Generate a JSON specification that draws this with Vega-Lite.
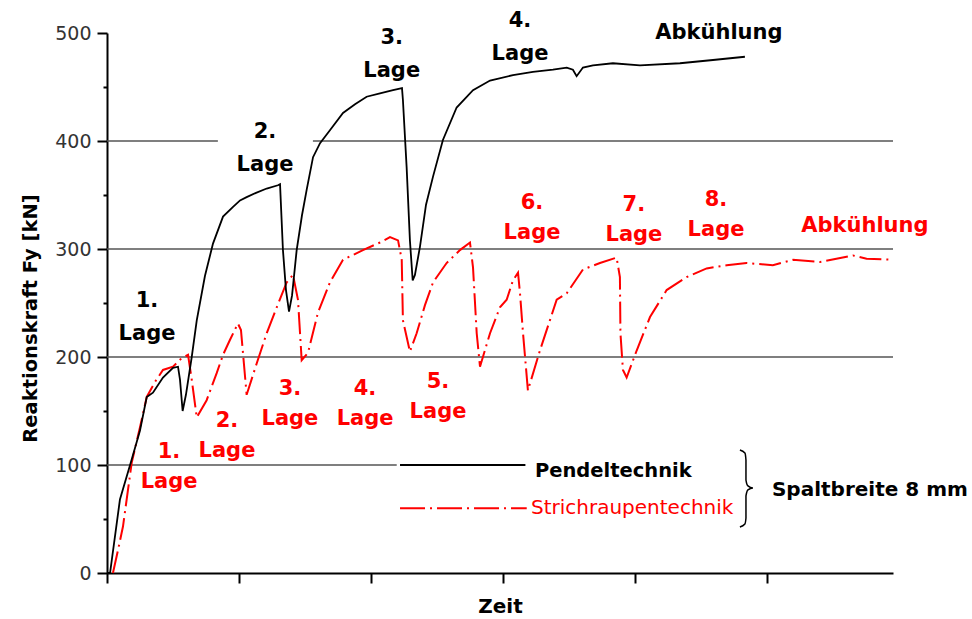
{
  "$schema": "https://vega.github.io/schema/vega-lite/v6.json",
  "width": 786,
  "height": 540,
  "autosize": {"type": "none"},
  "padding": {"left": 107, "top": 33, "right": 79, "bottom": 46},
  "background": "white",
  "config": {"view": {"stroke": null}, "font": "DejaVu Sans"},
  "datasets": {
    "grid": [
      {"t": 0, "t2": 0.84, "f": 400},
      {"t": 1.56, "t2": 5.955, "f": 400},
      {"t": 0, "t2": 5.955, "f": 300},
      {"t": 0, "t2": 5.955, "f": 200},
      {"t": 0, "t2": 2.195, "f": 100}
    ],
    "pendel": [
      {"t": 0, "f": 0}, {"t": 0.023, "f": 0}, {"t": 0.098, "f": 68}, {"t": 0.187, "f": 105},
      {"t": 0.25, "f": 132}, {"t": 0.301, "f": 163}, {"t": 0.348, "f": 167}, {"t": 0.424, "f": 181},
      {"t": 0.5, "f": 190}, {"t": 0.538, "f": 191}, {"t": 0.553, "f": 179}, {"t": 0.573, "f": 150},
      {"t": 0.598, "f": 165}, {"t": 0.642, "f": 200}, {"t": 0.68, "f": 234}, {"t": 0.742, "f": 275},
      {"t": 0.803, "f": 305}, {"t": 0.879, "f": 330}, {"t": 0.955, "f": 339}, {"t": 1.008, "f": 345},
      {"t": 1.058, "f": 348}, {"t": 1.129, "f": 352}, {"t": 1.21, "f": 356}, {"t": 1.295, "f": 359},
      {"t": 1.311, "f": 360}, {"t": 1.333, "f": 299}, {"t": 1.356, "f": 262}, {"t": 1.379, "f": 242},
      {"t": 1.402, "f": 257}, {"t": 1.437, "f": 299}, {"t": 1.477, "f": 331}, {"t": 1.513, "f": 355},
      {"t": 1.561, "f": 385}, {"t": 1.614, "f": 398}, {"t": 1.689, "f": 410}, {"t": 1.788, "f": 426},
      {"t": 1.879, "f": 434}, {"t": 1.967, "f": 441}, {"t": 2.068, "f": 444}, {"t": 2.167, "f": 447},
      {"t": 2.235, "f": 449}, {"t": 2.242, "f": 438}, {"t": 2.27, "f": 376}, {"t": 2.295, "f": 308},
      {"t": 2.316, "f": 271}, {"t": 2.333, "f": 276}, {"t": 2.371, "f": 302}, {"t": 2.417, "f": 341},
      {"t": 2.47, "f": 367}, {"t": 2.545, "f": 401}, {"t": 2.649, "f": 431}, {"t": 2.773, "f": 447},
      {"t": 2.902, "f": 456}, {"t": 3.076, "f": 461}, {"t": 3.227, "f": 464}, {"t": 3.379, "f": 466},
      {"t": 3.483, "f": 468}, {"t": 3.53, "f": 466}, {"t": 3.558, "f": 460}, {"t": 3.606, "f": 468},
      {"t": 3.682, "f": 470}, {"t": 3.833, "f": 472}, {"t": 4.038, "f": 470}, {"t": 4.341, "f": 472},
      {"t": 4.591, "f": 475}, {"t": 4.833, "f": 478}
    ],
    "strich": [
      {"t": 0.045, "f": 0}, {"t": 0.083, "f": 21}, {"t": 0.121, "f": 43}, {"t": 0.187, "f": 102},
      {"t": 0.25, "f": 135}, {"t": 0.301, "f": 163}, {"t": 0.364, "f": 177}, {"t": 0.424, "f": 188},
      {"t": 0.5, "f": 191}, {"t": 0.566, "f": 199}, {"t": 0.614, "f": 202}, {"t": 0.642, "f": 179},
      {"t": 0.68, "f": 144}, {"t": 0.755, "f": 160}, {"t": 0.831, "f": 185}, {"t": 0.879, "f": 202},
      {"t": 0.932, "f": 216}, {"t": 0.992, "f": 231}, {"t": 1.015, "f": 225}, {"t": 1.058, "f": 165},
      {"t": 1.134, "f": 194}, {"t": 1.21, "f": 222}, {"t": 1.286, "f": 246}, {"t": 1.361, "f": 269},
      {"t": 1.409, "f": 276}, {"t": 1.447, "f": 253}, {"t": 1.475, "f": 197}, {"t": 1.523, "f": 204},
      {"t": 1.598, "f": 241}, {"t": 1.689, "f": 269}, {"t": 1.788, "f": 290}, {"t": 1.939, "f": 299},
      {"t": 2.068, "f": 306}, {"t": 2.144, "f": 311}, {"t": 2.205, "f": 308}, {"t": 2.233, "f": 290},
      {"t": 2.242, "f": 234}, {"t": 2.295, "f": 205}, {"t": 2.346, "f": 222}, {"t": 2.409, "f": 248},
      {"t": 2.47, "f": 269}, {"t": 2.573, "f": 287}, {"t": 2.674, "f": 299}, {"t": 2.75, "f": 306},
      {"t": 2.773, "f": 283}, {"t": 2.801, "f": 222}, {"t": 2.826, "f": 191}, {"t": 2.902, "f": 222},
      {"t": 2.977, "f": 246}, {"t": 3.028, "f": 253}, {"t": 3.076, "f": 271}, {"t": 3.114, "f": 278},
      {"t": 3.129, "f": 259}, {"t": 3.152, "f": 222}, {"t": 3.189, "f": 169}, {"t": 3.28, "f": 206},
      {"t": 3.407, "f": 253}, {"t": 3.483, "f": 259}, {"t": 3.606, "f": 281}, {"t": 3.735, "f": 287},
      {"t": 3.861, "f": 292}, {"t": 3.886, "f": 274}, {"t": 3.89, "f": 222}, {"t": 3.909, "f": 188},
      {"t": 3.937, "f": 181}, {"t": 4.013, "f": 206}, {"t": 4.114, "f": 237}, {"t": 4.24, "f": 262},
      {"t": 4.392, "f": 274}, {"t": 4.543, "f": 282}, {"t": 4.695, "f": 285}, {"t": 4.846, "f": 287},
      {"t": 5.045, "f": 285}, {"t": 5.197, "f": 290}, {"t": 5.402, "f": 288}, {"t": 5.652, "f": 294},
      {"t": 5.755, "f": 291}, {"t": 5.955, "f": 290}
    ],
    "labelsBlack": [
      {"t": 0.303, "f": 252, "label": "1.\nLage"},
      {"t": 1.197, "f": 408, "label": "2.\nLage"},
      {"t": 2.157, "f": 495, "label": "3.\nLage"},
      {"t": 3.129, "f": 511, "label": "4.\nLage"},
      {"t": 4.636, "f": 500, "label": "Abkühlung"}
    ],
    "labelsRed": [
      {"t": 0.47, "f": 112, "label": "1.\nLage"},
      {"t": 0.909, "f": 141, "label": "2.\nLage"},
      {"t": 1.386, "f": 170, "label": "3.\nLage"},
      {"t": 1.955, "f": 170, "label": "4.\nLage"},
      {"t": 2.508, "f": 177, "label": "5.\nLage"},
      {"t": 3.22, "f": 343, "label": "6.\nLage"},
      {"t": 3.992, "f": 341, "label": "7.\nLage"},
      {"t": 4.614, "f": 345, "label": "8.\nLage"},
      {"t": 5.742, "f": 321, "label": "Abkühlung"}
    ],
    "brace": [
      {"i": 0, "t": 4.795, "f": 113.9}, {"i": 1, "t": 4.833, "f": 111.1}, {"i": 2, "t": 4.841, "f": 104.6},
      {"i": 3, "t": 4.841, "f": 86.1}, {"i": 4, "t": 4.856, "f": 80.6}, {"i": 5, "t": 4.894, "f": 78.7},
      {"i": 6, "t": 4.856, "f": 76.9}, {"i": 7, "t": 4.841, "f": 71.3}, {"i": 8, "t": 4.841, "f": 50.9},
      {"i": 9, "t": 4.833, "f": 45.4}, {"i": 10, "t": 4.795, "f": 42.6}
    ]
  },
  "encoding": {
    "x": {
      "field": "t", "type": "quantitative",
      "scale": {"domain": [0, 5.955], "nice": false, "zero": false},
      "axis": {
        "values": [0, 1, 2, 3, 4, 5], "labels": false, "grid": false,
        "tickSize": 10, "tickWidth": 2, "tickColor": "black",
        "domainColor": "black", "domainWidth": 2,
        "title": "Zeit", "titleFont": "DejaVu Sans", "titleFontSize": 20,
        "titleFontWeight": "bold", "titleColor": "black", "titlePadding": 12
      }
    },
    "y": {
      "field": "f", "type": "quantitative",
      "scale": {"domain": [0, 500], "nice": false},
      "axis": {
        "values": [0, 50, 100, 150, 200, 250, 300, 350, 400, 450, 500],
        "labelExpr": "datum.value % 100 === 0 ? datum.label : ''",
        "grid": false,
        "tickSize": {"condition": {"test": "datum.value % 100 === 0", "value": 10}, "value": 4},
        "tickWidth": 2, "tickColor": "black",
        "domainColor": "black", "domainWidth": 2,
        "labelFont": "DejaVu Sans", "labelFontSize": 19, "labelColor": "#333333", "labelPadding": 6,
        "title": "Reaktionskraft Fy [kN]", "titleFont": "DejaVu Sans", "titleFontSize": 19.5,
        "titleFontWeight": "bold", "titleColor": "black", "titlePadding": 14, "titleY": 285
      }
    }
  },
  "layer": [
    {
      "data": {"name": "grid"},
      "mark": {"type": "rule", "color": "#555555", "strokeWidth": 1.5},
      "encoding": {"x2": {"field": "t2"}}
    },
    {
      "data": {"name": "strich"},
      "mark": {"type": "line", "color": "#ff0000", "strokeWidth": 2, "strokeDash": [22, 5, 2, 5]}
    },
    {
      "data": {"name": "pendel"},
      "mark": {"type": "line", "color": "black", "strokeWidth": 1.8}
    },
    {
      "data": {"name": "labelsBlack"},
      "mark": {"type": "text", "font": "DejaVu Sans", "fontSize": 21, "fontWeight": "bold", "color": "black", "lineBreak": "\n", "lineHeight": 33, "align": "center", "baseline": "middle", "clip": false},
      "encoding": {"text": {"field": "label"}}
    },
    {
      "data": {"name": "labelsRed"},
      "mark": {"type": "text", "font": "DejaVu Sans", "fontSize": 21, "fontWeight": "bold", "color": "#ff0000", "lineBreak": "\n", "lineHeight": 30, "align": "center", "baseline": "middle", "clip": false},
      "encoding": {"text": {"field": "label"}}
    },
    {
      "data": {"values": [{"t": 2.22, "t2": 3.17, "f": 100}]},
      "mark": {"type": "rule", "color": "black", "strokeWidth": 2},
      "encoding": {"x2": {"field": "t2"}}
    },
    {
      "data": {"values": [{"t": 2.22, "t2": 3.18, "f": 60}]},
      "mark": {"type": "rule", "color": "#ff0000", "strokeWidth": 2, "strokeDash": [25, 5, 2, 5]},
      "encoding": {"x2": {"field": "t2"}}
    },
    {
      "data": {"values": [{"t": 3.242, "f": 94, "label": "Pendeltechnik"}]},
      "mark": {"type": "text", "font": "DejaVu Sans", "fontSize": 19.5, "fontWeight": "bold", "color": "black", "align": "left", "baseline": "middle"},
      "encoding": {"text": {"field": "label"}}
    },
    {
      "data": {"values": [{"t": 3.212, "f": 60, "label": "Strichraupentechnik"}]},
      "mark": {"type": "text", "font": "DejaVu Sans", "fontSize": 20, "color": "#ff0000", "align": "left", "baseline": "middle"},
      "encoding": {"text": {"field": "label"}}
    },
    {
      "data": {"name": "brace"},
      "mark": {"type": "line", "color": "black", "strokeWidth": 1.5, "interpolate": "monotone"},
      "encoding": {"order": {"field": "i", "type": "quantitative"}}
    },
    {
      "data": {"values": [{"t": 5.038, "f": 77, "label": "Spaltbreite 8 mm"}]},
      "mark": {"type": "text", "font": "DejaVu Sans", "fontSize": 20, "fontWeight": "bold", "color": "black", "align": "left", "baseline": "middle", "clip": false},
      "encoding": {"text": {"field": "label"}}
    }
  ]
}
